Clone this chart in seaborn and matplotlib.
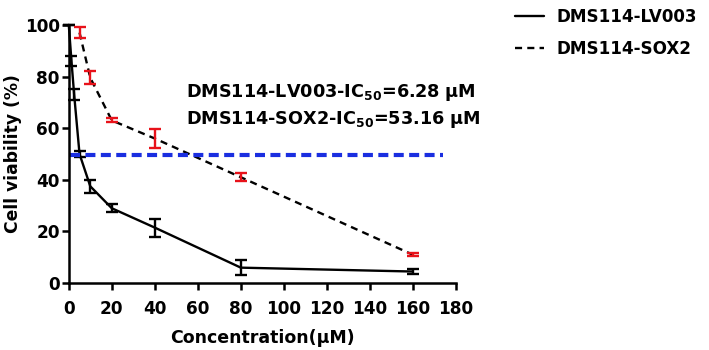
import numpy as np
import pandas as pd
import matplotlib.pyplot as plt
import seaborn as sns

# DMS114-LV003 (solid black)
lv_conc = [0, 1.25, 2.5, 5, 10, 20, 40, 80, 160]
lv_mean = [100, 86, 73, 50, 37.5, 29, 21.5, 6, 4.5]
lv_err = [0, 2, 2.2, 1, 2.5, 1.5, 3.5, 3, 1]

# DMS114-SOX2 (dashed black, red error bars)
sox_conc = [5, 10, 20, 40, 80, 160]
sox_mean = [97, 79.5, 63, 56, 41, 11]
sox_err = [2, 2.5, 0.8, 3.5, 1.5, 0.6]

ic50_level = 49.5
ic50_text = ["DMS114-LV003-IC$_{50}$=6.28 \u03bcM",
             "DMS114-SOX2-IC$_{50}$=53.16 \u03bcM"]

df = pd.concat([
    pd.DataFrame({'conc': lv_conc, 'viab': lv_mean, 'line': 'DMS114-LV003'}),
    pd.DataFrame({'conc': sox_conc, 'viab': sox_mean, 'line': 'DMS114-SOX2'}),
])

sns.set_style('ticks')
plt.rcParams['font.family'] = ['DejaVu Sans']
plt.rcParams['font.weight'] = 'bold'
plt.rcParams['mathtext.default'] = 'bf'
for k in ['text.color', 'axes.labelcolor', 'xtick.color', 'ytick.color', 'axes.edgecolor']:
    plt.rcParams[k] = 'black'

fig = plt.figure(figsize=(7.09, 3.5), dpi=100)
ax = fig.add_axes([0.097, 0.191, 0.546, 0.738])

sns.lineplot(data=df, x='conc', y='viab', hue='line', style='line',
             palette={'DMS114-LV003': 'black', 'DMS114-SOX2': 'black'},
             dashes={'DMS114-LV003': '', 'DMS114-SOX2': (3, 2.2)},
             linewidth=1.7, ax=ax, legend=False, clip_on=False)

ax.errorbar(lv_conc, lv_mean, yerr=lv_err, fmt='none', ecolor='black',
            elinewidth=1.7, capsize=4.5, capthick=1.7, clip_on=False)
ax.errorbar(sox_conc, sox_mean, yerr=sox_err, fmt='none', ecolor='#e8121a',
            elinewidth=1.7, capsize=4.5, capthick=1.7, clip_on=False)

ax.plot([0.5, 174], [ic50_level, ic50_level], color='#1a2ee0',
        linewidth=3.0, dashes=(2.4, 1.3))

ax.text(54.5, 74, ic50_text[0], fontsize=12.7, fontweight='bold', va='center')
ax.text(54.5, 63.5, ic50_text[1], fontsize=12.7, fontweight='bold', va='center')

ax.set_xlim(0, 180)
ax.set_ylim(0, 100)
ax.set_xticks(range(0, 181, 20))
ax.set_yticks(range(0, 101, 20))
ax.set_xlabel('Concentration(\u03bcM)', fontsize=12.5, fontweight='bold', labelpad=8)
ax.set_ylabel('Cell viability (%)', fontsize=12.3, fontweight='bold', labelpad=2)
ax.tick_params(axis='both', labelsize=12.2, width=1.8, length=5, direction='out')
ax.tick_params(axis='x', pad=7)
ax.tick_params(axis='y', pad=1.5)
for lab in ax.get_xticklabels() + ax.get_yticklabels():
    lab.set_fontweight('bold')
for s in ['left', 'bottom']:
    ax.spines[s].set_linewidth(1.8)
sns.despine(ax=ax)

handles = [plt.Line2D([], [], color='black', linewidth=1.7),
           plt.Line2D([], [], color='black', linewidth=1.7, dashes=(3, 2.2))]
fig.legend(handles, ['DMS114-LV003', 'DMS114-SOX2'], loc='upper left',
           bbox_to_anchor=(0.705, 1.02), frameon=False, handlelength=1.7,
           handletextpad=0.75, labelspacing=0.8,
           prop={'size': 12.1, 'weight': 'bold'})

fig.savefig('out.png', dpi=100)
